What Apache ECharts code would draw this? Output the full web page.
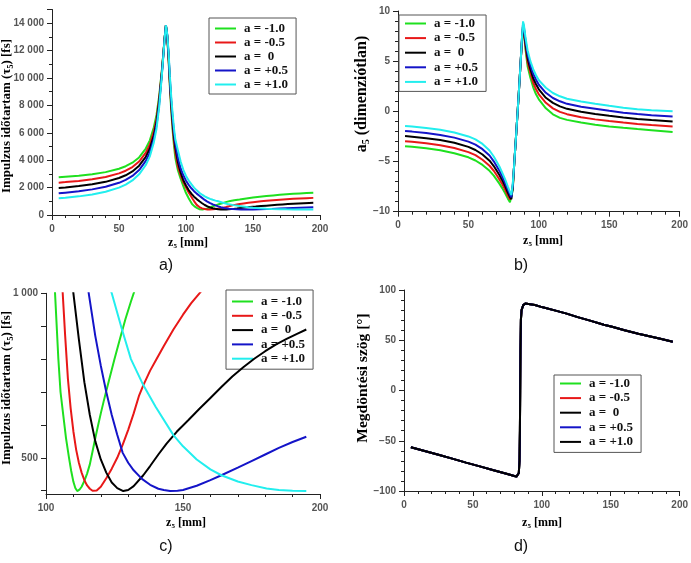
<!DOCTYPE html>
<html><head><meta charset="utf-8">
<script src="https://cdn.jsdelivr.net/npm/echarts@6/dist/echarts.min.js"></script>
<style>html,body{margin:0;padding:0;background:#fff}#c{width:691px;height:563px}</style>
</head><body><div id="c"></div>
<script>
// ---------- DATA ----------
const seriesNames = ['a = -1.0', 'a = -0.5', 'a =  0', 'a = +0.5', 'a = +1.0'];
const colorsABC = ['#1fe01f', '#e81818', '#000000', '#1414c8', '#22eeee'];
const colorsD = ['#1fe01f', '#e81818', '#000000', '#1414c8', '#000000'];

// pulse duration tau5 [fs] vs z5 [mm] (panels a and c)
const tauGreen = [[5,2750],[10,2790],[20,2870],[30,2980],[40,3130],[50,3380],[55,3560],[60,3820],[65,4200],[70,4850],[73,5450],[76,6400],[78,7300],[80,8700],[82,10600],[83,11700],[84,12900],[85,13850],[86,13000],[87,11300],[88,9300],[89,7600],[90,6200],[91,5100],[92,4200],[93,3700],[94,3250],[96,2650],[98,2100],[100,1600],[102,1220],[103.3,1000],[104.5,802],[105.3,700],[106.3,630],[107.3,560],[108.4,500],[109.2,460],[110,427],[110.7,408],[111.4,399],[112.2,403],[113,412],[114,430],[115,452],[116,480],[117,520],[118,560],[119,598],[120,635],[121,670],[122,703],[123,736],[125,800],[127,862],[129,922],[131,975],[133,1025],[136,1080],[140,1130],[145,1200],[150,1270],[155,1330],[160,1380],[165,1430],[170,1470],[175,1510],[180,1545],[185,1575],[190,1600],[195,1625]];
const tauRed = [[5,2360],[10,2400],[20,2490],[30,2610],[40,2780],[50,3040],[55,3230],[60,3500],[65,3900],[70,4550],[73,5150],[76,6100],[78,7000],[80,8500],[82,10500],[83,11650],[84,12850],[85,13850],[86,13050],[87,11450],[88,9500],[89,7850],[90,6500],[91,5450],[92,4600],[94,3500],[96,2900],[98,2400],[100,2000],[102,1650],[104,1330],[105,1170],[106.1,1000],[107,870],[108,740],[109,650],[110,580],[111,525],[112,485],[113,455],[114,432],[115,416],[116,406],[117,400],[117.6,399],[118.5,401],[120,412],[122,438],[124,467],[126,500],[128,540],[130,585],[132,635],[134,690],[135.5,720],[138,765],[140,795],[143,840],[146.5,890],[150,935],[153,970],[156,1000],[160,1040],[165,1080],[170,1120],[175,1150],[180,1180],[185,1205],[190,1230],[195,1250]];
const tauBlack = [[5,1970],[10,2010],[20,2110],[30,2240],[40,2420],[50,2700],[55,2900],[60,3180],[65,3600],[70,4250],[73,4850],[76,5800],[78,6750],[80,8300],[82,10400],[83,11600],[84,12850],[85,13850],[86,13100],[87,11600],[88,9700],[89,8100],[90,6800],[91,5750],[92,4950],[94,3850],[96,3100],[98,2550],[100,2150],[102,1820],[104,1560],[106,1340],[108,1160],[110,1000],[112,860],[114,730],[116,630],[118,550],[120,495],[122,455],[124,425],[126,408],[128.2,399],[130,402],[132,414],[135.5,447],[138,475],[141,510],[144,543],[147.7,579],[152,615],[156,649],[160,682],[164,715],[168,747],[172,775],[176,801],[180,824],[184,845],[188,862],[192,878],[195,890]];
const tauBlue = [[5,1580],[10,1630],[20,1730],[30,1870],[40,2060],[50,2350],[55,2560],[60,2850],[65,3280],[70,3950],[73,4550],[76,5550],[78,6550],[80,8100],[82,10300],[83,11550],[84,12800],[85,13850],[86,13150],[87,11750],[88,9900],[89,8350],[90,7100],[91,6050],[92,5250],[94,4150],[96,3400],[98,2900],[100,2500],[102,2200],[104,1950],[106,1740],[108,1560],[110,1400],[112,1250],[114,1100],[115.6,1000],[118,870],[120,780],[122,700],[124,630],[126,570],[128,515],[130,485],[132,462],[135,436],[138,418],[141,406],[143,402],[145.3,399],[148,400],[150,402],[155,415],[160,432],[164,447],[170,470],[175,490],[180,510],[185,530],[190,548],[195,564]];
const tauCyan = [[5,1215],[10,1260],[20,1360],[30,1500],[40,1700],[50,2000],[55,2220],[60,2520],[65,2970],[70,3650],[73,4280],[76,5300],[78,6300],[80,7900],[82,10200],[83,11500],[84,12800],[85,13850],[86,13200],[87,11900],[88,10100],[89,8600],[90,7400],[91,6350],[92,5550],[94,4700],[96,3900],[98,3300],[100,2850],[102,2520],[104,2250],[106,2000],[108,1800],[110,1620],[112,1480],[114,1360],[116,1260],[118,1180],[120,1110],[122,1050],[124,1000],[127.6,894],[131,800],[135.5,721],[140,655],[146.5,569],[150,535],[155,495],[160,465],[164,447],[170,428],[175,417],[180.5,407],[185,402],[190,400],[195,399]];

// a5 (dimensionless) vs z5 [mm] (panel b)
const a5Green = [[5,-3.47],[10,-3.53],[20,-3.68],[30,-3.88],[40,-4.17],[50,-4.58],[55,-4.9],[60,-5.34],[65,-5.93],[68,-6.4],[70,-6.8],[72,-7.2],[74,-7.65],[76,-8.15],[78,-8.7],[79.5,-9.05],[80.5,-9.15],[81.5,-7.8],[82.5,-5.3],[84,-2.1],[85.5,1.2],[87,4.7],[88,6.9],[88.8,8.15],[89.5,7.7],[90.5,6.2],[92,4.5],[94,3.35],[96,2.4],[98,1.7],[100,1.2],[105,0.3],[110,-0.3],[115,-0.65],[120,-0.85],[130,-1.12],[140,-1.33],[150,-1.5],[160,-1.64],[170,-1.77],[180,-1.88],[195,-2.05]];
const a5Red = [[5,-2.97],[10,-3.03],[20,-3.18],[30,-3.37],[40,-3.65],[50,-4.06],[55,-4.37],[60,-4.82],[65,-5.42],[68,-5.92],[70,-6.35],[72,-6.78],[74,-7.25],[76,-7.8],[78,-8.4],[79.5,-8.8],[80.5,-8.95],[81.5,-7.65],[82.5,-5.3],[84,-2.1],[85.5,1.2],[87,4.7],[88,7.0],[88.8,8.35],[89.5,7.9],[90.5,6.5],[92,4.9],[94,3.8],[96,2.85],[98,2.2],[100,1.7],[105,0.85],[110,0.3],[115,-0.05],[120,-0.28],[130,-0.58],[140,-0.8],[150,-0.97],[160,-1.12],[170,-1.26],[180,-1.37],[195,-1.52]];
const a5Black = [[5,-2.46],[10,-2.52],[20,-2.67],[30,-2.86],[40,-3.13],[50,-3.54],[55,-3.85],[60,-4.3],[65,-4.92],[68,-5.45],[70,-5.9],[72,-6.35],[74,-6.86],[76,-7.45],[78,-8.1],[79.5,-8.55],[80.5,-8.75],[81.5,-7.5],[82.5,-5.3],[84,-2.1],[85.5,1.2],[87,4.7],[88,7.1],[88.8,8.55],[89.5,8.1],[90.5,6.8],[92,5.3],[94,4.2],[96,3.3],[98,2.7],[100,2.2],[105,1.35],[110,0.84],[115,0.5],[120,0.25],[130,-0.05],[140,-0.27],[150,-0.45],[160,-0.62],[170,-0.76],[180,-0.87],[195,-1.02]];
const a5Blue = [[5,-1.96],[10,-2.02],[20,-2.16],[30,-2.35],[40,-2.62],[50,-3.02],[55,-3.32],[60,-3.77],[65,-4.4],[68,-4.98],[70,-5.45],[72,-5.92],[74,-6.48],[76,-7.1],[78,-7.8],[79.5,-8.3],[80.5,-8.55],[81.5,-7.35],[82.5,-5.3],[84,-2.1],[85.5,1.2],[87,4.7],[88,7.2],[88.8,8.75],[89.5,8.3],[90.5,7.1],[92,5.7],[94,4.6],[96,3.75],[98,3.15],[100,2.65],[105,1.85],[110,1.33],[115,1.0],[120,0.75],[130,0.45],[140,0.25],[150,0.05],[160,-0.13],[170,-0.27],[180,-0.38],[195,-0.52]];
const a5Cyan = [[5,-1.46],[10,-1.52],[20,-1.66],[30,-1.84],[40,-2.1],[50,-2.5],[55,-2.8],[60,-3.25],[65,-3.9],[68,-4.5],[70,-5.0],[72,-5.5],[74,-6.1],[76,-6.75],[78,-7.5],[79.5,-8.05],[80.5,-8.35],[81.5,-7.2],[82.5,-5.3],[84,-2.1],[85.5,1.2],[87,4.7],[88,7.3],[88.8,8.97],[89.5,8.5],[90.5,7.4],[92,6.1],[94,5.0],[96,4.2],[98,3.6],[100,3.1],[105,2.35],[110,1.83],[115,1.5],[120,1.25],[130,0.98],[140,0.75],[150,0.55],[160,0.36],[170,0.22],[180,0.12],[195,0.0]];

// tilt angle [deg] vs z5 [mm] (panel d) - all five curves coincide
const tiltAngle = [[5,-56.5],[15,-60.2],[25,-64],[35,-67.8],[45,-71.8],[55,-75.5],[65,-79.3],[75,-83],[80,-85],[81.6,-85.7],[82.5,-85.2],[83.3,-82],[83.8,-70],[84.1,-40],[84.3,0],[84.5,40],[84.8,70],[85.3,80],[86.5,85],[88,86.5],[89,86.7],[95,85],[100,83],[110,79.5],[118,76.5],[126,73],[135,69.5],[145,65.5],[151,63.5],[160,60],[170,56.5],[178,54],[186,51.5],[195,48.6]];

const tauSets = [tauGreen, tauRed, tauBlack, tauBlue, tauCyan];
const a5Sets = [a5Green, a5Red, a5Black, a5Blue, a5Cyan];

const tauTicksC = [400, 500, 600, 700, 800, 900, 1000];
const tauLabelsC = [500, 1000];

// ---------- CHART ----------
const chart = echarts.init(document.getElementById('c'), null, {renderer: 'canvas'});
const AX = '#222';
const tickFont = {fontFamily: 'Liberation Sans, Arial, sans-serif', fontWeight: 'bold', fontSize: 10, color: '#555'};
function thousands(v) { return String(v).replace(/\B(?=(\d{3})+(?!\d))/g, ' '); }
function signed(v) { return v < 0 ? '\u2212' + Math.abs(v) : String(v); }

function xAxisCfg(gi, min, max) {
  return {type: 'value', gridIndex: gi, min: min, max: max, interval: 50,
    axisLine: {show: true, onZero: false, lineStyle: {color: AX, width: 1}},
    axisTick: {show: true, inside: false, length: 5, lineStyle: {color: AX}},
    minorTick: {show: true, splitNumber: 5, length: 3, lineStyle: {color: AX}},
    splitLine: {show: false}, minorSplitLine: {show: false},
    axisLabel: Object.assign({margin: 9}, tickFont)};
}
function yAxisCfg(gi, extra) {
  return Object.assign({type: 'value', gridIndex: gi,
    axisLine: {show: true, onZero: false, lineStyle: {color: AX, width: 1}},
    axisTick: {show: true, inside: false, length: 5, lineStyle: {color: AX}},
    splitLine: {show: false}, minorSplitLine: {show: false}}, extra);
}

const series = [];
function addSet(axisIdx, sets, colors) {
  for (let i = 0; i < 5; i++) {
    series.push({type: 'line', name: seriesNames[i], xAxisIndex: axisIdx, yAxisIndex: axisIdx, data: sets[i],
      showSymbol: false, symbol: 'none', clip: true,
      lineStyle: {color: colors[i], width: 2}, itemStyle: {color: colors[i]}, z: 2 + i});
  }
}
addSet(0, tauSets, colorsABC);
addSet(1, a5Sets, colorsABC);
addSet(2, tauSets, colorsABC);
addSet(3, [tiltAngle, tiltAngle, tiltAngle, tiltAngle, tiltAngle], colorsD);

function legendCfg(left, top, colors, padding, gap, ih) {
  return {orient: 'vertical', left: left, top: top, selectedMode: false,
    icon: 'path://M0,0H21V2H0Z',
    data: seriesNames.map((n, i) => ({name: n, itemStyle: {color: colors[i]}})),
    itemWidth: 21, itemHeight: ih, itemGap: gap, padding: padding,
    backgroundColor: '#fff', borderColor: '#555', borderWidth: 1,
    textStyle: {fontFamily: 'Liberation Serif, Times New Roman, serif', fontWeight: 'bold', fontSize: 13, color: '#111', padding: [0, 0, 0, 3]}};
}

const serifB = 'Liberation Serif, Times New Roman, serif';
function richTitle(x, y, rot, str, size) {
  return {type: 'text', x: x, y: y, rotation: rot, silent: true,
    style: {text: str, align: 'center', verticalAlign: 'middle', fill: '#000',
      fontFamily: serifB, fontWeight: 'bold', fontSize: size,
      rich: {m: {fontFamily: serifB, fontWeight: 'bold', fontSize: size, fill: '#000', lineHeight: size + 2},
             s: {fontFamily: serifB, fontWeight: 'bold', fontSize: Math.round(size * 0.62), fill: '#000', verticalAlign: 'bottom', lineHeight: size + 2}}}};
}
function panelLabel(x, y, t) {
  return {type: 'text', x: x, y: y, silent: true,
    style: {text: t, align: 'center', verticalAlign: 'middle', fill: '#111',
      fontFamily: 'Liberation Sans Narrow, Liberation Sans, Arial, sans-serif', fontSize: 16}};
}

const option = {
  animation: false,
  backgroundColor: '#fff',
  grid: [
    {left: 52, top: 9.5, width: 268, height: 205.5},
    {left: 398, top: 11, width: 282, height: 200.7},
    {left: 46, top: 293.3, width: 274, height: 200.7},
    {left: 404, top: 290, width: 276, height: 201}
  ],
  xAxis: [xAxisCfg(0, 0, 200), xAxisCfg(1, 0, 200), xAxisCfg(2, 100, 200), xAxisCfg(3, 0, 200)],
  yAxis: [
    yAxisCfg(0, {min: 0, max: 15000, interval: 2000,
      minorTick: {show: true, splitNumber: 2, length: 3, lineStyle: {color: AX}},
      axisLabel: Object.assign({margin: 8, formatter: v => v > 14000 ? '' : thousands(v)}, tickFont)}),
    yAxisCfg(1, {min: -10, max: 10, interval: 5,
      minorTick: {show: true, splitNumber: 5, length: 3, lineStyle: {color: AX}},
      axisLabel: Object.assign({margin: 8, formatter: v => signed(v)}, tickFont)}),
    yAxisCfg(2, {min: 390, max: 1000,
      axisTick: {show: true, inside: false, length: 5, lineStyle: {color: AX}, customValues: tauTicksC},
      axisLabel: Object.assign({margin: 8, customValues: tauLabelsC, formatter: v => (v === 500 || v === 1000) ? thousands(v) : ''}, tickFont)}),
    yAxisCfg(3, {min: -100, max: 100, interval: 50,
      minorTick: {show: true, splitNumber: 5, length: 3, lineStyle: {color: AX}},
      axisLabel: Object.assign({margin: 8, formatter: v => signed(v)}, tickFont)})
  ],
  legend: [
    legendCfg(209, 18, colorsABC, [4, 8, 3, 6], 1, 14),
    legendCfg(399, 15, colorsABC, [2, 8, 3, 6], 1.6, 13),
    legendCfg(226, 290, colorsABC, [5, 8, 4, 6], 1.3, 14),
    legendCfg(554, 375, colorsD, [2, 8, 4, 6], 1.6, 13)
  ],
  graphic: [
    richTitle(7, 116, Math.PI / 2, '{m|Impulzus időtartam (τ}{s|5}{m|) [fs]}', 13),
    richTitle(362, 94, Math.PI / 2, '{m|a}{s|5}{m| (dimenziótlan)}', 16),
    richTitle(7, 388, Math.PI / 2, '{m|Impulzus időtartam (τ}{s|5}{m|) [fs]}', 13),
    richTitle(363, 378, Math.PI / 2, '{m|Megdöntési szög [°]}', 15.5),
    richTitle(188, 243, 0, '{m|z}{s|5}{m| [mm]}', 12),
    richTitle(543, 241, 0, '{m|z}{s|5}{m| [mm]}', 12),
    richTitle(186, 523, 0, '{m|z}{s|5}{m| [mm]}', 12),
    richTitle(542, 523, 0, '{m|z}{s|5}{m| [mm]}', 12),
    panelLabel(166, 266, 'a)'),
    panelLabel(521, 266, 'b)'),
    panelLabel(166, 547, 'c)'),
    panelLabel(521, 547, 'd)')
  ],
  series: series
};
chart.setOption(option);
</script>
</body></html>
